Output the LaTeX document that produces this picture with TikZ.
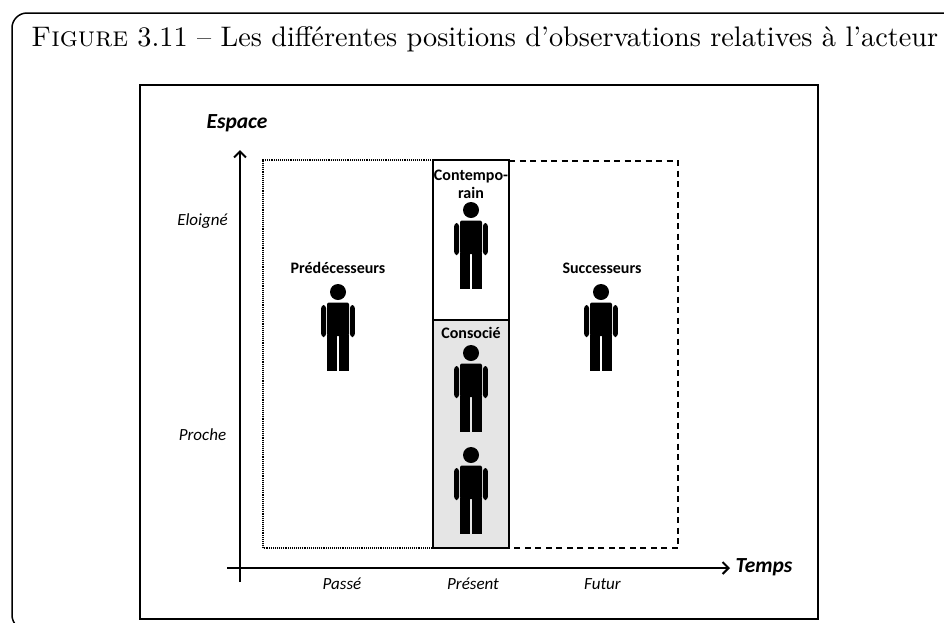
\documentclass[tikz,border=0pt]{standalone}
\usepackage{graphicx}
\usepackage{fontspec}
\newfontfamily\calibri{Carlito}
\usetikzlibrary{arrows.meta}

\tikzset{
  etiquette/.style={font=\calibri\bfseries\fontsize{16}{18}\selectfont},
  axe/.style={font=\calibri\itshape\fontsize{17}{20}\selectfont},
  titreaxe/.style={font=\calibri\bfseries\itshape\fontsize{21.5}{24}\selectfont},
  fleche/.style={line width=2pt,-{Straight Barb[length=6pt,width=12pt]}}
}

\begin{document}
\begin{tikzpicture}[x=1pt,y=-1pt]
\useasboundingbox (0,0) rectangle (944,622);
\draw [line width=1.5pt, rounded corners=15pt] (12,13) rectangle (960,630);
\node [anchor=base west, inner sep=0pt] (titre) at (31,46.7) {\resizebox{907pt}{!}{\textsc{Figure} 3.11 -- Les différentes positions d'observations relatives à l'acteur}};
\draw [line width=2.5pt] (140,85) rectangle (818,619);

% axes
\coordinate (ybas) at (240,582);
\coordinate (yhaut) at (240,150);
\coordinate (xgauche) at (227,568);
\coordinate (xdroite) at (730,568);
\draw [fleche] (ybas) -- (yhaut);
\draw [fleche] (xgauche) -- (xdroite);

% zones
\draw [line width=1.3pt, dash pattern=on 1pt off 0.9pt] (433,160) -- (263,160) -- (263,548) -- (433,548);
\draw [line width=1.3pt, dash pattern=on 6pt off 4.5pt] (509,161) -- (678,161) -- (678,548) -- (509,548);
\draw [line width=1.2pt, fill=white] (433,160) rectangle (509,320);
\draw [line width=2pt, fill=black!10] (433,320) rectangle (509,548);

% personnes
\foreach \px/\py in {338/292, 471/210, 471/353, 471/455, 601/292} {
  \begin{scope}[shift={(\px,\py)}]
  \fill (0,0) circle (8);
  \fill [rounded corners=3pt] (-16.8,45) rectangle (-12,13);
  \fill [rounded corners=3pt] (12,45) rectangle (16.8,13);
  \fill [rounded corners=2pt] (-11,10.5) rectangle (11,44);
  \fill (-10.8,43) rectangle (-0.6,79);
  \fill (0.6,43) rectangle (10.8,79);
  \end{scope}
}

\node [titreaxe] (espace) at (237,123) {Espace};
\node [axe] (eloigne) at (202.5,221) {Eloigné};
\node [axe] (proche) at (202.5,435) {Proche};
\node [axe] (passe) at (342,584) {Passé};
\node [axe] (present) at (473,584) {Présent};
\node [axe] (futur) at (602.5,584) {Futur};
\node [titreaxe] (temps) at (764,567) {Temps};
\node [etiquette] (pred) at (338,268) {Prédécesseurs};
\node [etiquette, align=center] (contemp) at (471,184) {Contempo-\\rain};
\node [etiquette] (conso) at (471,333) {Consocié};
\node [etiquette] (succ) at (602,268) {Successeurs};

\end{tikzpicture}
\end{document}
